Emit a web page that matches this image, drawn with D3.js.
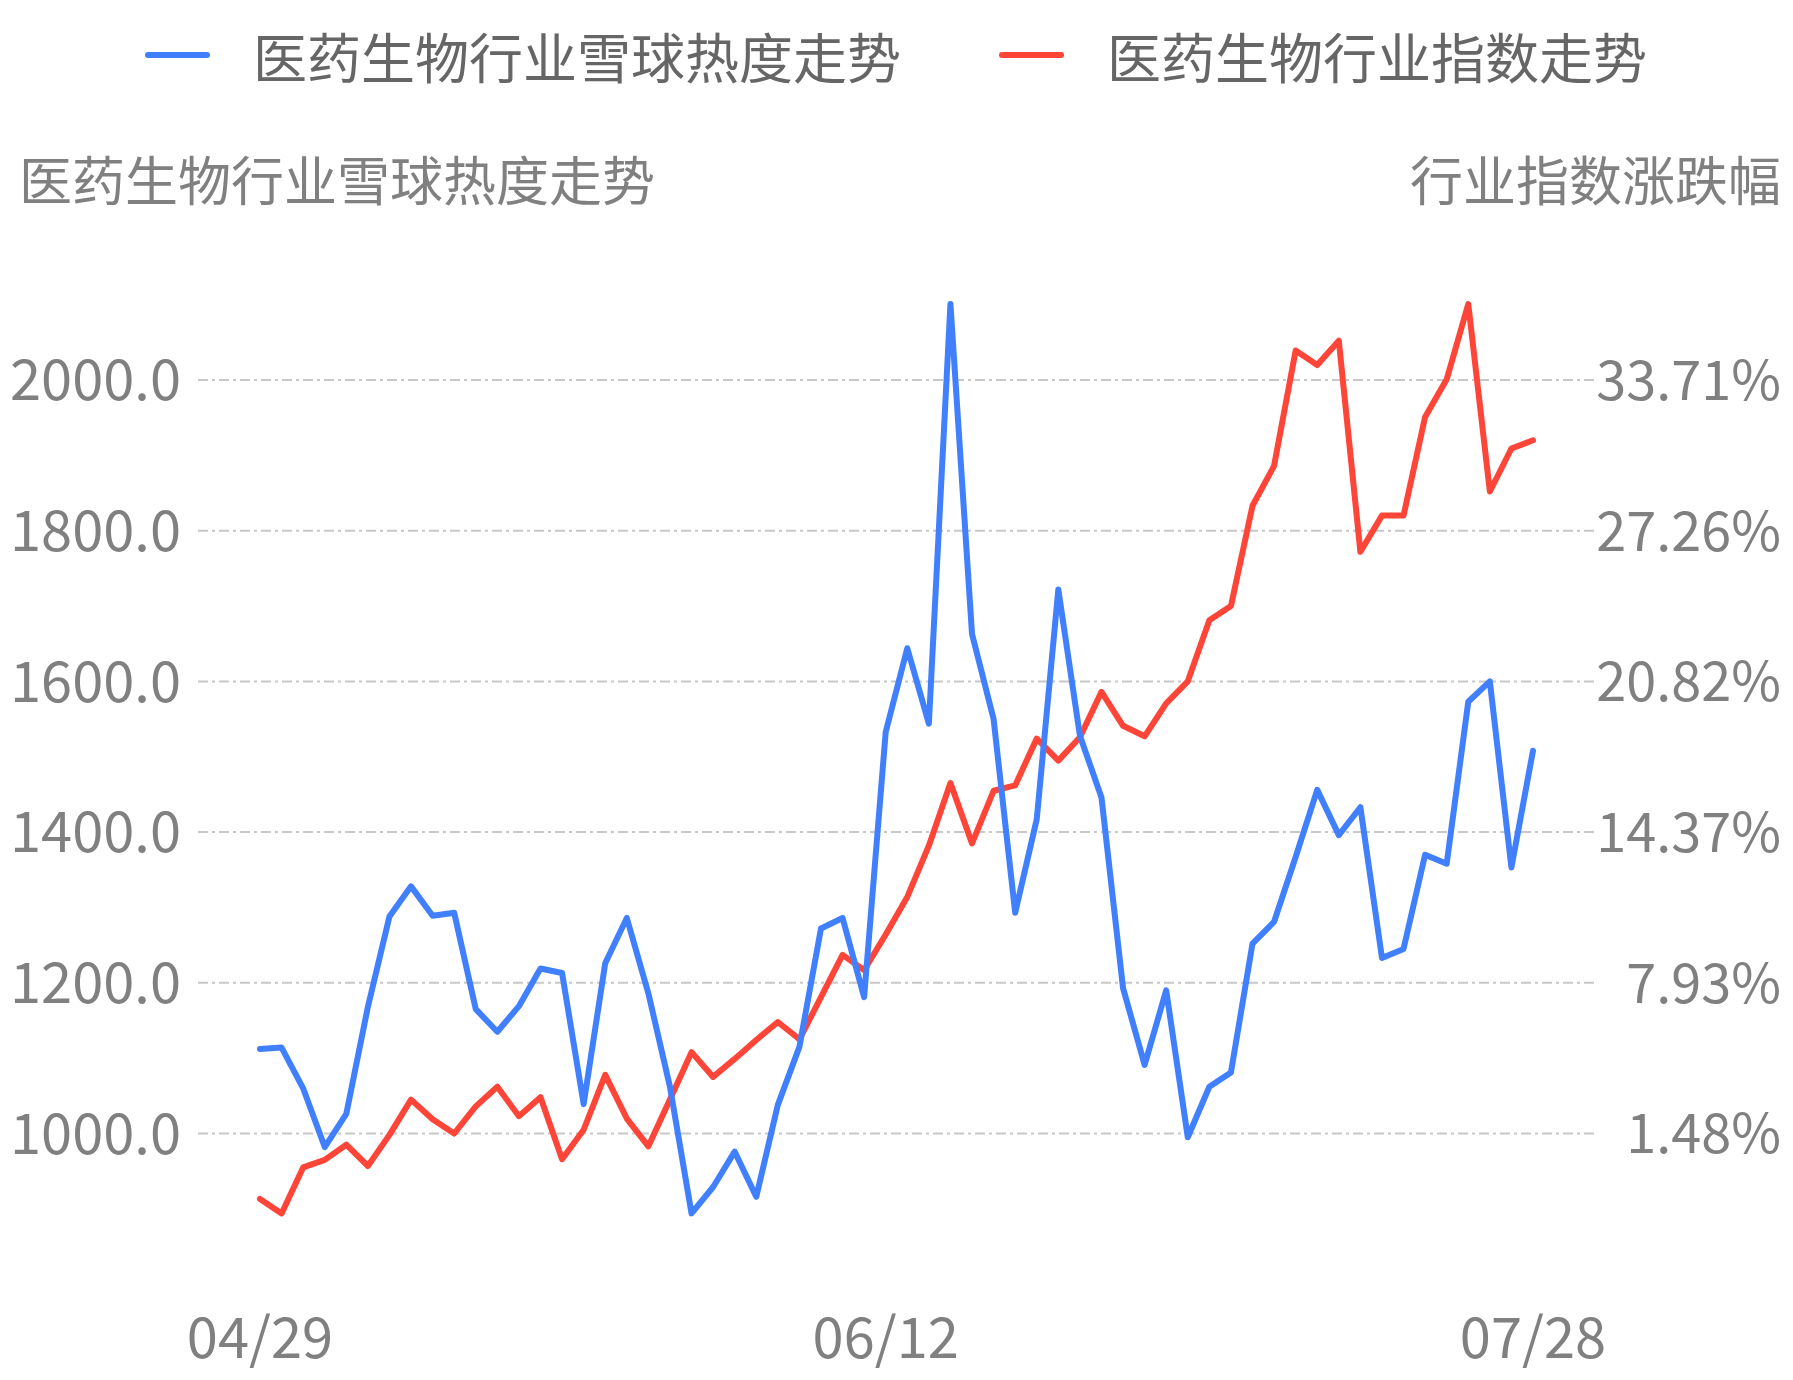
<!DOCTYPE html>
<html>
<head>
<meta charset="utf-8">
<script src="https://cdn.jsdelivr.net/npm/d3@7"></script>
<style>
  html, body { margin: 0; padding: 0; background: #fff; }
  svg { display: block; font-family: "Noto Sans CJK SC", "Noto Sans", sans-serif; }
</style>
</head>
<body>
<div id="chart"></div>
<script>
// trading days shown on the x axis
var dates = [
  '04/29', '04/30', '05/06', '05/07', '05/08', '05/09', '05/10', '05/11', '05/13', '05/14',
  '05/15', '05/16', '05/17', '05/20', '05/21', '05/22', '05/23', '05/24', '05/27', '05/28',
  '05/29', '05/30', '05/31', '06/03', '06/04', '06/05', '06/06', '06/07', '06/11', '06/12',
  '06/13', '06/14', '06/17', '06/18', '06/19', '06/20', '06/21', '06/24', '06/25', '06/26',
  '06/27', '06/28', '07/01', '07/02', '07/03', '07/04', '07/05', '07/08', '07/09', '07/10',
  '07/11', '07/12', '07/15', '07/16', '07/17', '07/18', '07/19', '07/22', '07/25', '07/28'
];
var xTickLabels = ['04/29', '06/12', '07/28'];

// 医药生物行业雪球热度 (left axis)
var heat = [
  1112, 1114, 1060, 982, 1026, 1168, 1288, 1328, 1289, 1293,
  1165, 1135, 1169, 1219, 1213, 1039, 1226, 1286, 1186, 1062,
  894, 929, 976, 916, 1038, 1115, 1272, 1286, 1181, 1533,
  1644, 1544, 2101, 1663, 1550, 1293, 1417, 1722, 1528, 1446,
  1193, 1091, 1190, 995, 1062, 1081, 1252, 1281, 1367, 1456,
  1396, 1433, 1233, 1245, 1370, 1358, 1573, 1600, 1353, 1508
];

// 医药生物行业指数涨跌幅, % (right axis)
var indexPct = [
  -1.32, -1.94, 0.03, 0.35, 1.00, 0.09, 1.42, 2.93, 2.09, 1.48,
  2.64, 3.48, 2.22, 3.03, 0.38, 1.64, 3.99, 2.12, 0.93, 2.93,
  4.96, 3.90, 4.67, 5.48, 6.25, 5.51, 7.31, 9.12, 8.47, 9.99,
  11.60, 13.79, 16.47, 13.89, 16.14, 16.37, 18.37, 17.43, 18.43, 20.37,
  18.92, 18.47, 19.88, 20.82, 23.43, 24.04, 28.33, 30.04, 34.97, 34.35,
  35.39, 26.36, 27.91, 27.91, 32.13, 33.74, 36.96, 28.94, 30.78, 31.13
];

var leftTicks = [1000, 1200, 1400, 1600, 1800, 2000];
var rightTicks = [1.48, 7.93, 14.37, 20.82, 27.26, 33.71];

var seriesNames = ['医药生物行业雪球热度走势', '医药生物行业指数走势'];
var colors = ['#4080ff', '#ff4538'];

var width = 1793, height = 1380;

var svg = d3.select('#chart').append('svg')
  .attr('width', width)
  .attr('height', height);

var x = d3.scalePoint().domain(dates).range([260, 1533]);
var yLeft = d3.scaleLinear().domain([1000, 2000]).range([1133.5, 380]);
var yRight = d3.scaleLinear().domain([1.48, 33.71]).range([1133.5, 380]);

// grid lines
svg.append('g')
  .selectAll('line')
  .data(leftTicks)
  .enter().append('line')
  .attr('x1', 198)
  .attr('x2', 1597)
  .attr('y1', function (d) { return yLeft(d); })
  .attr('y2', function (d) { return yLeft(d); })
  .attr('stroke', '#c8c8c8')
  .attr('stroke-width', 2)
  .attr('stroke-dasharray', '10,4,3,4');

// left axis labels
svg.append('g')
  .selectAll('text')
  .data(leftTicks)
  .enter().append('text')
  .attr('x', 181)
  .attr('y', function (d) { return yLeft(d); })
  .attr('dy', '0.36em')
  .attr('text-anchor', 'end')
  .attr('fill', '#808080')
  .attr('font-size', 56)
  .text(function (d) { return d3.format('.1f')(d); });

// right axis labels
svg.append('g')
  .selectAll('text')
  .data(rightTicks)
  .enter().append('text')
  .attr('x', 1781)
  .attr('y', function (d) { return yRight(d); })
  .attr('dy', '0.37em')
  .attr('text-anchor', 'end')
  .attr('fill', '#808080')
  .attr('font-size', 54)
  .text(function (d) { return d3.format('.2f')(d) + '%'; });

// x axis labels
svg.append('g')
  .selectAll('text')
  .data(xTickLabels)
  .enter().append('text')
  .attr('x', function (d) { return x(d); })
  .attr('y', 1358)
  .attr('text-anchor', 'middle')
  .attr('fill', '#808080')
  .attr('font-size', 56)
  .text(function (d) { return d; });

// axis titles
svg.append('text')
  .attr('x', 19)
  .attr('y', 178)
  .attr('dominant-baseline', 'central')
  .attr('fill', '#808080')
  .attr('font-size', 53)
  .text(seriesNames[0]);

svg.append('text')
  .attr('x', 1781)
  .attr('y', 178)
  .attr('dominant-baseline', 'central')
  .attr('text-anchor', 'end')
  .attr('fill', '#808080')
  .attr('font-size', 53)
  .text('行业指数涨跌幅');

// lines
var heatLine = d3.line()
  .x(function (d, i) { return x(dates[i]); })
  .y(function (d) { return yLeft(d); });
var indexLine = d3.line()
  .x(function (d, i) { return x(dates[i]); })
  .y(function (d) { return yRight(d); });

svg.append('path')
  .datum(indexPct)
  .attr('d', indexLine)
  .attr('fill', 'none')
  .attr('stroke', colors[1])
  .attr('stroke-width', 6)
  .attr('stroke-linejoin', 'round')
  .attr('stroke-linecap', 'round');

svg.append('path')
  .datum(heat)
  .attr('d', heatLine)
  .attr('fill', 'none')
  .attr('stroke', colors[0])
  .attr('stroke-width', 6)
  .attr('stroke-linejoin', 'round')
  .attr('stroke-linecap', 'round');

// legend
var legendPos = [148, 1002];
var legend = svg.append('g')
  .selectAll('g')
  .data(seriesNames)
  .enter().append('g')
  .attr('transform', function (d, i) { return 'translate(' + legendPos[i] + ',55)'; });
legend.append('line')
  .attr('x1', 0)
  .attr('x2', 59)
  .attr('stroke', function (d, i) { return colors[i]; })
  .attr('stroke-width', 6)
  .attr('stroke-linecap', 'round');
legend.append('text')
  .attr('x', 105)
  .attr('dominant-baseline', 'central')
  .attr('fill', '#666')
  .attr('font-size', 54)
  .text(function (d) { return d; });
</script>
</body>
</html>
